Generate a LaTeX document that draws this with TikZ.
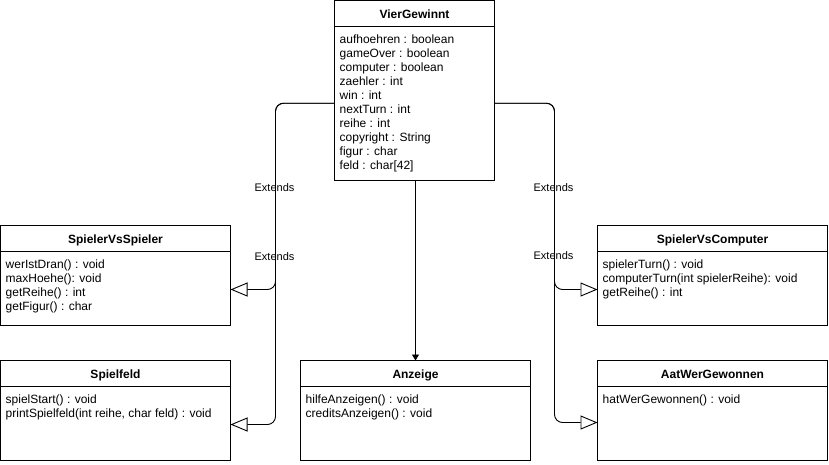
\documentclass[tikz,border=0pt]{standalone}
\usepackage{fontspec}
\setmainfont{Liberation Sans}
\usetikzlibrary{arrows.meta}
\tikzset{
  classbox/.style={draw, line width=0.9pt, inner sep=0pt, outer sep=0pt, anchor=north west},
  ttl/.style={font=\bfseries\fontsize{12}{14}\selectfont, anchor=base, inner sep=0pt},
  body/.style={font=\fontsize{12}{14}\selectfont, anchor=north west, align=left, inner sep=0pt},
  lbl/.style={font=\fontsize{11}{13}\selectfont, inner sep=0pt},
  ext/.style={line width=0.9pt, rounded corners=8pt, -{Triangle[open,length=17pt,width=14pt]}},
  assoc/.style={line width=0.9pt, -{Triangle[length=6pt,width=7pt]}},
}
\newcommand\umlclass[7]{% name, x, y, w, h, title, body
  \node[classbox, minimum width=#4pt, minimum height=#5pt] (#1) at (#2,#3) {};
  \draw[line width=0.9pt] ([yshift=-26pt]#1.north west) -- ([yshift=-26pt]#1.north east);
  \node[ttl] (#1-t) at ([yshift=-18pt]#1.north) {#6};
  \node[body] (#1-b) at ([xshift=5pt,yshift=-33.2pt]#1.north west) {\strut#7};
}
\begin{document}
\begin{tikzpicture}[x=1pt,y=-1pt]
\useasboundingbox (0,0) rectangle (829,464);
\umlclass{vg}{334.5}{0.5}{160}{179.5}{VierGewinnt}{aufhoehren : boolean\\gameOver : boolean\\computer : boolean\\zaehler : int\\win : int\\nextTurn : int\\reihe : int\\copyright : String\\figur : char\\feld : char[42]}
\umlclass{svs}{0.5}{225.5}{230}{100}{SpielerVsSpieler}{werIstDran() : void\\maxHoehe(): void\\getReihe() : int\\getFigur() : char}
\umlclass{sf}{0.5}{360.5}{230}{100}{Spielfeld}{spielStart() : void\\printSpielfeld(int reihe, char feld) : void}
\umlclass{anz}{300.5}{360.5}{230}{100}{Anzeige}{hilfeAnzeigen() : void\\creditsAnzeigen() : void}
\umlclass{svc}{597.5}{225.5}{230}{100}{SpielerVsComputer}{spielerTurn() : void\\computerTurn(int spielerReihe): void\\getReihe() : int}
\umlclass{awg}{597.5}{360.5}{230}{100}{AatWerGewonnen}{hatWerGewonnen() : void}

\draw[ext] ([yshift=-13pt]vg.west) -| ([xshift=45pt,yshift=-14pt]svs.east) -- ([yshift=-14pt]svs.east);
\draw[ext] ([yshift=-13pt]vg.west) -| ([xshift=45pt,yshift=-14pt]sf.east) -- ([yshift=-14pt]sf.east);
\draw[ext] ([yshift=-13pt]vg.east) -| ([xshift=-43pt,yshift=-14pt]svc.west) -- ([yshift=-14pt]svc.west);
\draw[ext] ([yshift=-13pt]vg.east) -| ([xshift=-43pt,yshift=-12pt]awg.west) -- ([yshift=-12pt]awg.west);
\draw[assoc] ([xshift=1pt]vg.south) -- ([xshift=0pt]anz.north);

\node[lbl] (l1) at (274.5,188) {Extends};
\node[lbl] (l2) at (274.5,256.5) {Extends};
\node[lbl] (l3) at (553.5,188) {Extends};
\node[lbl] (l4) at (553.5,256) {Extends};
\end{tikzpicture}
\end{document}
